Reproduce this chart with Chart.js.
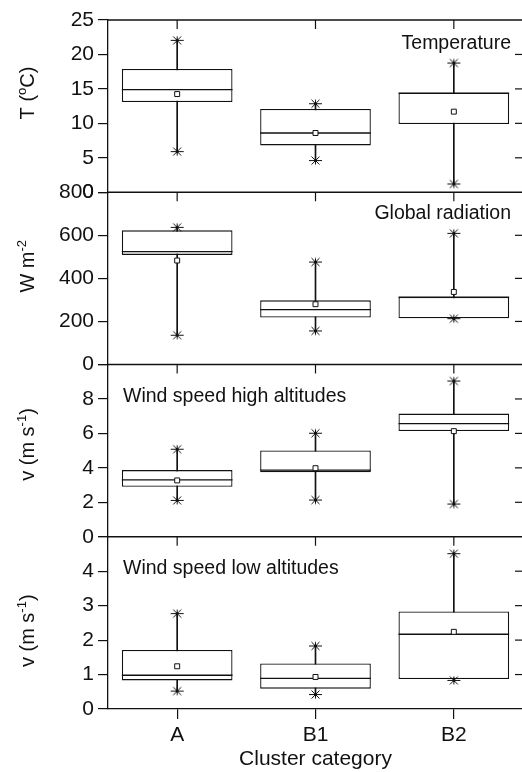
<!DOCTYPE html>
<html>
<head>
<meta charset="utf-8">
<script src="https://cdn.jsdelivr.net/npm/chart.js@4.4.1/dist/chart.umd.min.js"></script>
<style>
  html, body { margin: 0; padding: 0; background: #fff; overflow: hidden; }
  canvas { display: block; }
</style>
</head>
<body>
<canvas id="chart" width="528" height="772"></canvas>
<script>
// ==== DATA ====
const categories = ['A', 'B1', 'B2'];

// Temperature (deg C)
const tempMin  = [5.9, 4.6, 1.2];
const tempQ1   = [13.1, 6.8, 9.9];
const tempMed  = [14.9, 8.6, 14.4];
const tempQ3   = [17.9, 12.1, 14.45];
const tempMax  = [22.05, 12.85, 18.75];
const tempMean = [14.25, 8.6, 11.7];
const tempAxis = [0, 25, 5];      // min, max, step

// Global radiation (W m-2)
const radMin  = [136, 156, 213];
const radQ1   = [509, 218, 215];
const radMed  = [524, 255, 313];
const radQ3   = [623, 298, 314];
const radMax  = [637, 476, 609];
const radMean = [483, 280, 337];
const radAxis = [0, 800, 200];

// Wind speed high altitudes (m s-1)
const highMin  = [2.11, 2.13, 1.9];
const highQ1   = [2.9, 3.75, 6.14];
const highMed  = [3.3, 3.87, 6.57];
const highQ3   = [3.87, 5.01, 7.15];
const highMax  = [5.08, 6.01, 9.04];
const highMean = [3.27, 3.98, 6.13];
const highAxis = [0, 10, 2];

// Wind speed low altitudes (m s-1)
const lowMin  = [0.52, 0.42, 0.83];
const lowQ1   = [0.83, 0.59, 0.87];
const lowMed  = [0.98, 0.89, 2.17];
const lowQ3   = [1.715, 1.32, 2.83];
const lowMax  = [2.77, 1.83, 4.51];
const lowMean = [1.24, 0.93, 2.24];
const lowAxis = [0, 5, 1];

// ==== STYLE ====
const FONT = "'Liberation Sans', Arial, sans-serif";
const INK = '#111';

// panels, top to bottom
const panels = [
  { id: 'yTemp', label: 'Temperature', align: 'right', labelDy: 24,
    title: [['T (', 0], ['o', 1], ['C)', 0]], titleDy: 73 },
  { id: 'yRad', label: 'Global radiation', align: 'right', labelDy: 21,
    title: [['W m', 0], ['-2', 1]], titleDy: 74 },
  { id: 'yHigh', label: 'Wind speed high altitudes', align: 'left', labelDy: 32,
    title: [['v (m s', 0], ['-1', 1], [')', 0]], titleDy: 80 },
  { id: 'yLow', label: 'Wind speed low altitudes', align: 'left', labelDy: 32,
    title: [['v (m s', 0], ['-1', 1], [')', 0]], titleDy: 94 }
];

// asterisk marker for min / max
const star = document.createElement('canvas');
star.width = 15; star.height = 11;
(function () {
  const g = star.getContext('2d');
  g.strokeStyle = INK; g.lineWidth = 1;
  g.beginPath();
  g.moveTo(1, 5.5); g.lineTo(14, 5.5);
  g.moveTo(3.5, 1.5); g.lineTo(11.5, 9.5);
  g.moveTo(3.5, 9.5); g.lineTo(11.5, 1.5);
  g.moveTo(7.5, 1.5); g.lineTo(7.5, 9.5);
  g.stroke();
})();

const halfBox = c => c.chart.scales.x.width / categories.length * 0.4;

function boxSets(axis, mins, q1s, meds, q3s, maxs, means) {
  return [
    { type: 'bar', yAxisID: axis, data: mins.map((v, i) => [v, maxs[i]]),
      backgroundColor: INK, barThickness: 1, grouped: false, order: 5 },
    { type: 'bar', yAxisID: axis, data: q1s.map((v, i) => [v, q3s[i]]),
      backgroundColor: '#fff', borderColor: INK, borderWidth: 1.3, borderSkipped: false,
      barPercentage: 0.8, categoryPercentage: 1, grouped: false, order: 4 },
    { type: 'line', yAxisID: axis, data: meds, showLine: false, pointStyle: 'line',
      pointRadius: halfBox, pointBorderColor: INK, pointBorderWidth: 1.3, order: 3 },
    { type: 'line', yAxisID: axis, data: means, showLine: false, pointStyle: 'rect',
      pointRadius: 3.5, pointBackgroundColor: '#fff', pointBorderColor: INK, pointBorderWidth: 1, order: 2 },
    { type: 'line', yAxisID: axis, data: maxs, showLine: false, pointStyle: star, order: 1 },
    { type: 'line', yAxisID: axis, data: mins, showLine: false, pointStyle: star, order: 1 }
  ];
}

function yScale(range, hideTop) {
  return {
    type: 'linear', position: 'left', stack: 'panels', stackWeight: 1,
    min: range[0], max: range[1],
    ticks: { stepSize: range[2], autoSkip: false, font: { family: FONT, size: 21 }, color: INK, padding: 4,
      callback: v => (hideTop && v === range[1]) ? '' : v },
    grid: { drawOnChartArea: false, tickLength: 10, color: INK, lineWidth: 1.2 },
    border: { display: true, color: INK, width: 1.3 },
    afterFit: s => { s.width = 108; }
  };
}

function line(ctx, x1, y1, x2, y2) {
  ctx.beginPath(); ctx.moveTo(x1, y1); ctx.lineTo(x2, y2); ctx.stroke();
}

function drawTitle(ctx, parts, baseX, cy) {
  const big = 20, small = 13;
  ctx.save();
  ctx.translate(baseX, cy);
  ctx.rotate(-Math.PI / 2);
  ctx.textBaseline = 'alphabetic';
  ctx.textAlign = 'left';
  let total = 0;
  parts.forEach(p => { ctx.font = (p[1] ? small : big) + 'px ' + FONT; total += ctx.measureText(p[0]).width; });
  let xx = -total / 2;
  parts.forEach(p => {
    ctx.font = (p[1] ? small : big) + 'px ' + FONT;
    ctx.fillText(p[0], xx, p[1] ? -8 : 0);
    xx += ctx.measureText(p[0]).width;
  });
  ctx.restore();
}

// frames, inner ticks, panel labels and axis titles
const decor = {
  id: 'decor',
  afterDraw(chart) {
    const { ctx, chartArea: a, scales } = chart;
    const x = scales.x;
    ctx.save();
    ctx.strokeStyle = INK;
    ctx.fillStyle = INK;
    panels.forEach(p => {
      const s = scales[p.id];
      ctx.lineWidth = 1.3;
      line(ctx, a.left, s.top, a.right, s.top);
      ctx.lineWidth = 1.2;
      categories.forEach((c, i) => {
        const px = x.getPixelForTick(i);
        line(ctx, px, s.top, px, s.top + 9);
      });
      s.ticks.forEach(t => {
        if (t.value > s.min && t.value < s.max) {
          const py = s.getPixelForValue(t.value);
          line(ctx, a.right - 8, py, a.right, py);
        }
      });
      ctx.font = '19.5px ' + FONT;
      ctx.textBaseline = 'middle';
      ctx.textAlign = p.align;
      ctx.fillText(p.label, p.align === 'right' ? a.right - 12 : a.left + 15, s.top + p.labelDy);
      drawTitle(ctx, p.title, 34, s.top + p.titleDy);
    });
    ctx.lineWidth = 1.3;
    line(ctx, a.right, a.top, a.right, a.bottom);
    ctx.restore();
  }
};

Chart.defaults.font.family = FONT;

new Chart(document.getElementById('chart'), {
  type: 'bar',
  data: {
    labels: categories,
    datasets: [
      ...boxSets('yTemp', tempMin, tempQ1, tempMed, tempQ3, tempMax, tempMean),
      ...boxSets('yRad', radMin, radQ1, radMed, radQ3, radMax, radMean),
      ...boxSets('yHigh', highMin, highQ1, highMed, highQ3, highMax, highMean),
      ...boxSets('yLow', lowMin, lowQ1, lowMed, lowQ3, lowMax, lowMean)
    ]
  },
  options: {
    responsive: false,
    animation: false,
    events: [],
    layout: { padding: { top: 20, right: 1, left: 0, bottom: 0 } },
    plugins: { legend: { display: false }, tooltip: { enabled: false } },
    scales: {
      x: {
        type: 'category', position: 'bottom', offset: true,
        grid: { offset: false, drawOnChartArea: false, tickLength: 10, color: INK, lineWidth: 1.2 },
        border: { display: true, color: INK, width: 1.3 },
        ticks: { font: { family: FONT, size: 21 }, color: INK, padding: 4 },
        title: { display: true, text: 'Cluster category', color: INK,
          font: { family: FONT, size: 21 }, padding: { top: 0, bottom: 0 } },
        afterFit: s => { s.height = 63; }
      },
      // bottom panel first: the last stacked axis ends up on top
      yLow: yScale(lowAxis, true),
      yHigh: yScale(highAxis, true),
      yRad: yScale(radAxis, false),
      yTemp: yScale(tempAxis, false)
    }
  },
  plugins: [decor]
});
</script>
</body>
</html>
